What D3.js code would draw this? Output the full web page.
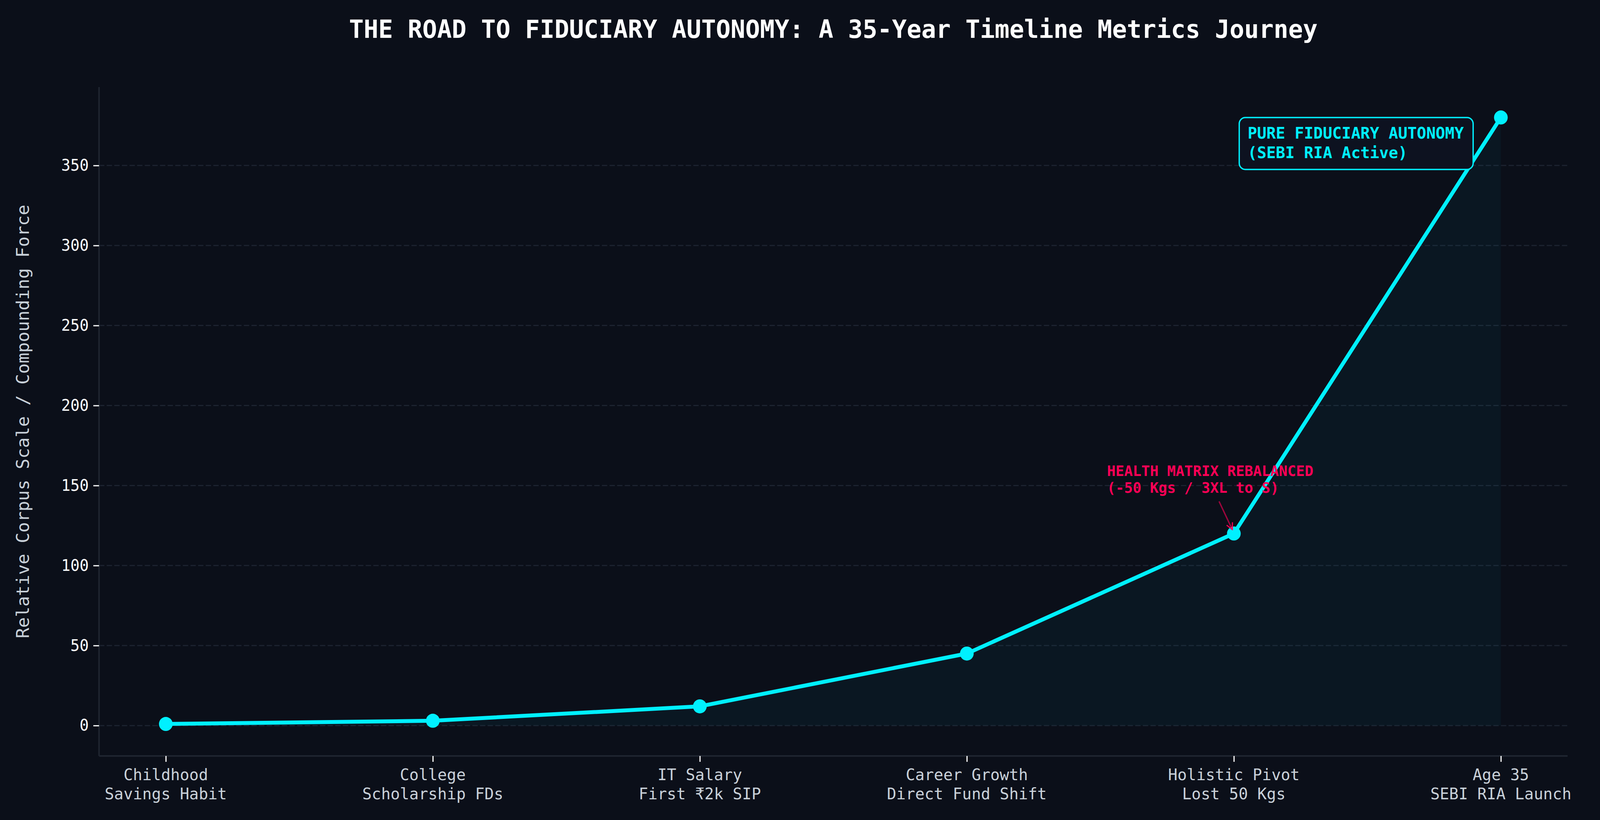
<!DOCTYPE html>
<html>
<head>
<meta charset="utf-8">
<script src="https://cdn.jsdelivr.net/npm/d3@7"></script>
<style>
  html, body { margin: 0; padding: 0; background: #0b0f19; overflow: hidden; width: 100%; height: 100%; }
  svg { display: block; width: 100vw; height: 100vh; }
</style>
</head>
<body>
<svg viewBox="0 0 4200 2100" preserveAspectRatio="none"></svg>
<script>
// chart data
var stageTitles = ['Childhood', 'College', 'IT Salary', 'Career Growth', 'Holistic Pivot', 'Age 35'];
var stageNotes = ['Savings Habit', 'Scholarship FDs', 'First \u20B92k SIP', 'Direct Fund Shift', 'Lost 50 Kgs', 'SEBI RIA Launch'];
var corpusValues = [1, 3, 12, 45, 120, 380];
var yTicks = [0, 50, 100, 150, 200, 250, 300, 350];

var chartTitle = 'THE ROAD TO FIDUCIARY AUTONOMY: A 35-Year Timeline Metrics Journey';
var yLabel = 'Relative Corpus Scale / Compounding Force';
var healthNote = ['HEALTH MATRIX REBALANCED', '(-50 Kgs / 3XL to S)'];
var peakNote = ['PURE FIDUCIARY AUTONOMY', '(SEBI RIA Active)'];

var FONT = '"DejaVu Sans Mono", "Liberation Mono", monospace';
var CYAN = '#00f0ff';
var PINK = '#ff0055';

var svg = d3.select('svg');
var plotLeft = 260, plotRight = 4115, plotTop = 223, plotBottom = 1936;

svg.append('rect')
    .attr('width', 4200)
    .attr('height', 2100)
    .attr('fill', '#0b0f19');

var data = corpusValues.map(function(v, i){
    return {i: i, v: v};
});

var x = d3.scaleLinear().domain([-0.25, 5.25]).range([plotLeft, plotRight]);
var y = d3.scaleLinear().domain([-19, 399]).range([plotBottom, plotTop]);

// grid
svg.append('g')
    .selectAll('line')
    .data(yTicks)
    .enter()
    .append('line')
    .attr('x1', plotLeft)
    .attr('x2', plotRight)
    .attr('y1', function(d){ return y(d); })
    .attr('y2', function(d){ return y(d); })
    .attr('stroke', '#1c2330')
    .attr('stroke-width', 3)
    .attr('stroke-dasharray', '14,6');

// faint fill under the curve
var area = d3.area()
    .x(function(d){ return x(d.i); })
    .y0(y(0))
    .y1(function(d){ return y(d.v); });

svg.append('path')
    .datum(data)
    .attr('d', area)
    .attr('fill', CYAN)
    .attr('fill-opacity', 0.04);

// spines
svg.append('line')
    .attr('x1', plotLeft).attr('x2', plotLeft)
    .attr('y1', plotTop).attr('y2', plotBottom)
    .attr('stroke', '#1f2530')
    .attr('stroke-width', 4);
svg.append('line')
    .attr('x1', plotLeft).attr('x2', plotRight)
    .attr('y1', plotBottom).attr('y2', plotBottom)
    .attr('stroke', '#1f2530')
    .attr('stroke-width', 4);

// y axis
var yAxis = svg.append('g')
    .attr('transform', 'translate(' + plotLeft + ',0)')
    .call(d3.axisLeft(y).tickValues(yTicks).tickSize(15).tickPadding(12));
yAxis.select('.domain').remove();
yAxis.selectAll('line').attr('stroke', '#ffffff').attr('stroke-width', 3);
yAxis.selectAll('text')
    .attr('fill', '#ffffff')
    .attr('font-family', FONT)
    .attr('font-size', 40);

// x axis (two-line labels)
var xAxis = svg.append('g')
    .attr('transform', 'translate(0,' + plotBottom + ')')
    .call(d3.axisBottom(x).tickValues(d3.range(stageTitles.length)).tickSize(15).tickFormat(''));
xAxis.select('.domain').remove();
xAxis.selectAll('line').attr('stroke', '#ffffff').attr('stroke-width', 3);

var xLabels = svg.append('g')
    .selectAll('text')
    .data(stageTitles)
    .enter()
    .append('text')
    .attr('x', function(d, i){ return x(i); })
    .attr('y', 1998)
    .attr('text-anchor', 'middle')
    .attr('fill', '#c9d1d9')
    .attr('font-family', FONT)
    .attr('font-size', 41);
xLabels.append('tspan')
    .attr('x', function(d, i){ return x(i); })
    .text(function(d){ return d; });
xLabels.append('tspan')
    .attr('x', function(d, i){ return x(i); })
    .attr('dy', 49)
    .text(function(d, i){ return stageNotes[i]; });

// line and markers
var lineFunction = d3.line()
    .x(function(d){ return x(d.i); })
    .y(function(d){ return y(d.v); });

svg.append('path')
    .datum(data)
    .attr('d', lineFunction)
    .attr('fill', 'none')
    .attr('stroke', CYAN)
    .attr('stroke-width', 10)
    .attr('stroke-linejoin', 'round');

svg.selectAll('.marker')
    .data(data)
    .enter()
    .append('circle')
    .attr('class', 'marker')
    .attr('cx', function(d){ return x(d.i); })
    .attr('cy', function(d){ return y(d.v); })
    .attr('r', 18)
    .attr('fill', CYAN);

// title and y label
svg.append('text')
    .attr('x', (plotLeft + plotRight) / 2)
    .attr('y', 97)
    .attr('text-anchor', 'middle')
    .attr('fill', '#ffffff')
    .attr('font-family', FONT)
    .attr('font-weight', 'bold')
    .attr('font-size', 64)
    .text(chartTitle);

svg.append('text')
    .attr('transform', 'translate(76,' + ((plotTop + plotBottom) / 2) + ') rotate(-90)')
    .attr('text-anchor', 'middle')
    .attr('fill', '#c9d1d9')
    .attr('font-family', FONT)
    .attr('font-size', 45)
    .text(yLabel);

// health annotation with arrow
var hx = x(4), hy = y(corpusValues[4]);
var defs = svg.append('defs');
defs.append('marker')
    .attr('id', 'arrow')
    .attr('viewBox', '0 0 10 10')
    .attr('refX', 9)
    .attr('refY', 5)
    .attr('markerWidth', 6)
    .attr('markerHeight', 6)
    .attr('orient', 'auto')
    .append('path')
    .attr('d', 'M1,1 L9,5 L1,9')
    .attr('fill', 'none')
    .attr('stroke', PINK)
    .attr('stroke-width', 1.4);

svg.append('line')
    .attr('x1', 3200)
    .attr('y1', 1284)
    .attr('x2', hx - 4)
    .attr('y2', hy - 10)
    .attr('stroke', PINK)
    .attr('stroke-opacity', 0.6)
    .attr('stroke-width', 3.5)
    .attr('marker-end', 'url(#arrow)');

svg.append('g')
    .selectAll('text')
    .data(healthNote)
    .enter()
    .append('text')
    .attr('x', 2906)
    .attr('y', function(d, i){ return 1219 + i * 43; })
    .attr('fill', PINK)
    .attr('font-family', FONT)
    .attr('font-weight', 'bold')
    .attr('font-size', 37.5)
    .text(function(d){ return d; });

// peak annotation box
svg.append('rect')
    .attr('x', 3253)
    .attr('y', 301)
    .attr('width', 614)
    .attr('height', 133)
    .attr('rx', 16)
    .attr('fill', '#0d1220')
    .attr('stroke', CYAN)
    .attr('stroke-width', 3.5);

svg.append('g')
    .selectAll('text')
    .data(peakNote)
    .enter()
    .append('text')
    .attr('x', 3275)
    .attr('y', function(d, i){ return 355 + i * 50; })
    .attr('fill', CYAN)
    .attr('font-family', FONT)
    .attr('font-weight', 'bold')
    .attr('font-size', 41)
    .text(function(d){ return d; });
</script>
</body>
</html>
